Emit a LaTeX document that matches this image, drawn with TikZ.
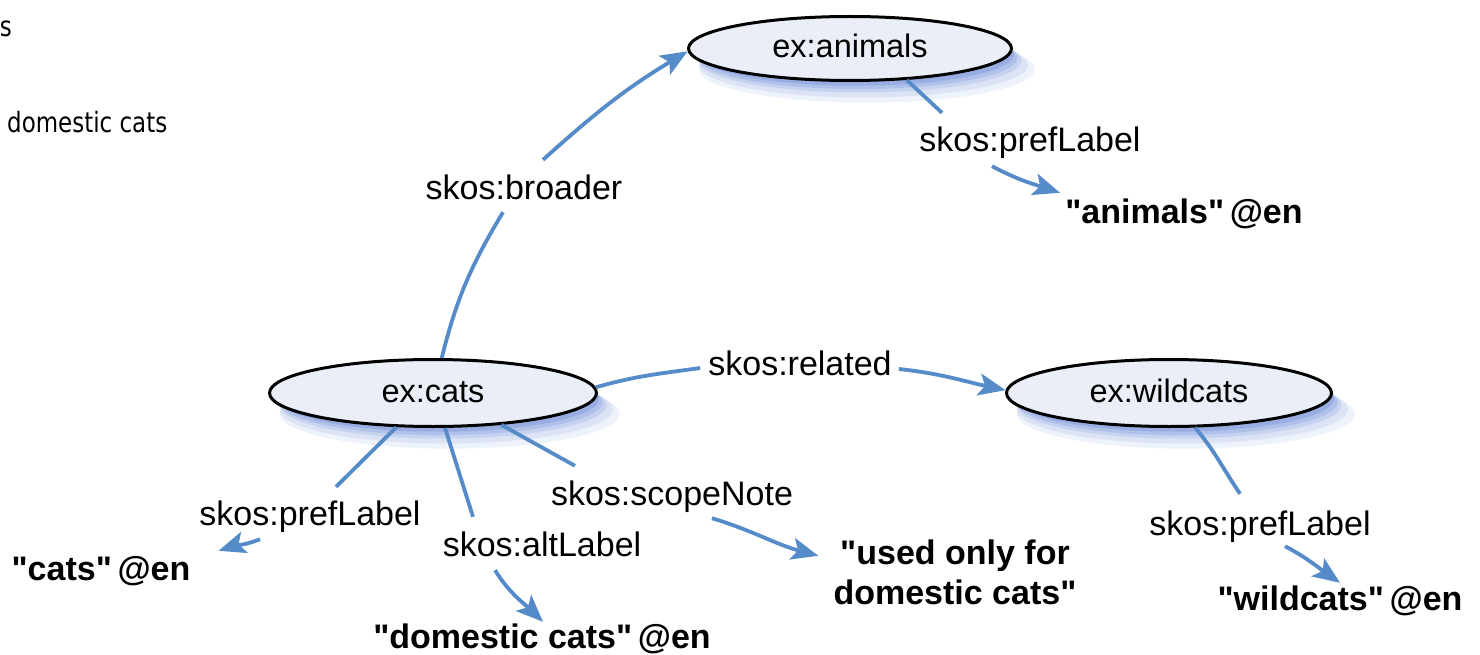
\documentclass[tikz,border=0pt]{standalone}
\usepackage{fontspec}
\setmainfont{Liberation Sans}[Ligatures=TeXOff]
\newfontfamily\artfont{DejaVu Sans}
\usetikzlibrary{shapes.geometric,shadows,arrows.meta}
\definecolor{edgeblue}{RGB}{86,139,201}
\definecolor{nodefill}{RGB}{233,238,247}
\definecolor{glowblue}{RGB}{95,130,215}
\begin{document}
\begin{tikzpicture}[x=1pt,y=1pt,
  glow/.style={
    drop shadow={shadow xshift=16pt,shadow yshift=-20pt,shadow scale=1.04,fill=glowblue,opacity=0.10},
    drop shadow={shadow xshift=13pt,shadow yshift=-16pt,shadow scale=1.02,fill=glowblue,opacity=0.13},
    drop shadow={shadow xshift=10pt,shadow yshift=-12pt,shadow scale=1.0,fill=glowblue,opacity=0.17},
    drop shadow={shadow xshift=8pt,shadow yshift=-9pt,shadow scale=0.99,fill=glowblue,opacity=0.22},
    drop shadow={shadow xshift=6pt,shadow yshift=-6pt,shadow scale=0.98,fill=glowblue,opacity=0.28}},
  res/.style={ellipse, draw=black, line width=3pt, fill=nodefill, inner sep=0pt,
    text height=24pt, text depth=5pt, font=\fontsize{32.5}{36}\selectfont, glow},
  prop/.style={inner sep=0pt, text height=25pt, text depth=7pt, anchor=base,
    font=\fontsize{34}{40}\selectfont},
  lit/.style={prop, font=\fontsize{34}{40}\selectfont\bfseries},
  litblock/.style={inner sep=0pt, align=center, font=\fontsize{34}{40}\selectfont\bfseries},
  artifact/.style={inner sep=0pt, font=\artfont\fontsize{28}{30}\selectfont},
  edge/.style={draw=edgeblue, line width=3.8pt},
  arr/.style={edge, -{Stealth[length=27pt,width=22pt,inset=6pt]}},
]
\useasboundingbox (0,0) rectangle (1480,-655);
\fill[white] (0,0) rectangle (1480,-655);

% stray text at top left
\node[artifact, anchor=base east] (artS) at (12,-37) {\scalebox{0.82}[1]{s}};
\node[artifact, anchor=base west] (artDom) at (7,-133) {\scalebox{0.82}[1]{domestic cats}};

% resources
\node[res, minimum width=323pt, minimum height=64pt] (animals) at (850,-48.5) {ex:animals};
\node[res, minimum width=327pt, minimum height=67pt] (cats) at (433,-393) {ex:cats};
\node[res, minimum width=325pt, minimum height=67pt] (wildcats) at (1169,-393) {ex:wildcats};

% property labels
\node[prop] (lblBroader) at (524,-200) {skos:broader};
\node[prop] (lblPrefA) at (1030,-152) {skos:prefLabel};
\node[prop] (lblRelated) at (800,-375) {skos:related};
\node[prop] (lblPrefC) at (310,-525) {skos:prefLabel};
\node[prop] (lblAlt) at (542,-556) {skos:altLabel};
\node[prop] (lblScope) at (672,-505) {skos:scopeNote};
\node[prop] (lblPrefW) at (1260,-535) {skos:prefLabel};

% literals
\node[lit] (litAnimals) at (1184,-223) {"animals"\,@en};
\node[lit] (litWild) at (1340,-610) {"wildcats"\,@en};
\node[lit] (litCats) at (101,-580) {"cats"\,@en};
\node[lit] (litDomestic) at (542,-648) {"domestic cats"\,@en};
\node[litblock] (litScope) at (955,-572.5) {"used only for\\domestic cats"};

% broader
\draw[edge] (cats.76) to[out=76,in=-121] ([shift={(-21,-5)}]lblBroader.south);
\draw[arr] ([shift={(19,15)}]lblBroader.north) to[out=42,in=-149] (animals.181);

% animals prefLabel
\draw[edge] (animals.-29) -- ([shift={(-88,14)}]lblPrefA.north);
\draw[arr] ([shift={(-38,-7)}]lblPrefA.south) to[out=-28,in=162] ([shift={(-5,5)}]litAnimals.north west);

% related
\draw[edge] (cats.2) to[out=16,in=-172] ([shift={(-8,-2)}]lblRelated.west);
\draw[arr] ([shift={(7,-3)}]lblRelated.east) to[out=-6,in=168] (wildcats.179);

% wildcats prefLabel
\draw[edge] (wildcats.-53) to[out=-50,in=124] ([shift={(-20,16)}]lblPrefW.north);
\draw[arr] ([shift={(25,-4)}]lblPrefW.south) to[out=-28,in=145] ([shift={(0,2)}]litWild.north);

% cats prefLabel
\draw[edge] (cats.223) -- ([shift={(26,13)}]lblPrefC.north);
\draw[arr] ([shift={(-50,-7)}]lblPrefC.south) to[out=-158,in=18] ([shift={(28,4)}]litCats.north east);

% altLabel
\draw[edge] (cats.-71) -- ([shift={(-69,14)}]lblAlt.north);
\draw[arr] ([shift={(-47,-7)}]lblAlt.south) to[out=-58,in=136] ([shift={(1,1)}]litDomestic.north);

% scopeNote
\draw[edge] (cats.-25) -- ([shift={(-97,14)}]lblScope.north);
\draw[arr] ([shift={(40,-6)}]lblScope.south) to[out=-17,in=165] ([shift={(-15,-16)}]litScope.north west);
\end{tikzpicture}
\end{document}
